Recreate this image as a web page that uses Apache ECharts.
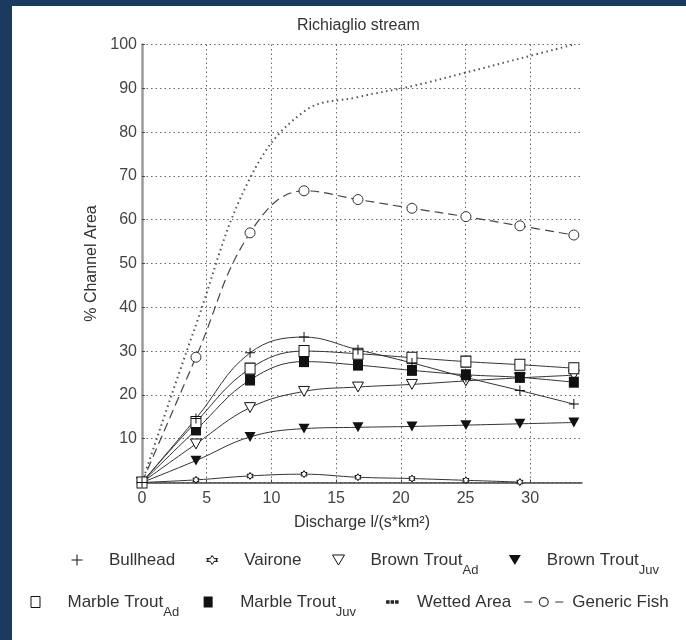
<!DOCTYPE html>
<html>
<head>
<meta charset="utf-8">
<script src="https://cdn.jsdelivr.net/npm/echarts@6/dist/echarts.min.js"></script>
<style>
html,body{margin:0;padding:0;background:#fff;}
#chart{width:686px;height:640px;}
</style>
</head>
<body>
<div id="chart"></div>
<script>
// discharge l/(s*km2)
var discharge = [0, 4.17, 8.35, 12.52, 16.69, 20.86, 25.03, 29.2, 33.37];

var bullhead      = [0, 14.6, 29.6, 33.2, 30.3, 27.3, 24.0, 21.0, 17.9];
var vairone       = [0, 0.6, 1.5, 1.9, 1.2, 0.9, 0.5, 0.1];
var brownTroutAd  = [0, 8.8, 17.1, 20.8, 21.8, 22.4, 23.2, 23.9, 24.5];
var brownTroutJuv = [0, 5.0, 10.4, 12.3, 12.6, 12.8, 13.1, 13.4, 13.7];
var marbleTroutAd = [0, 13.8, 26.0, 30.0, 29.4, 28.5, 27.6, 26.9, 26.1];
var marbleTroutJuv= [0, 12.0, 23.4, 27.6, 26.8, 25.6, 24.6, 24.0, 22.9];
var wettedArea    = [0, 36.0, 69.5, 84.7, 88.0, 90.5, 93.6, 96.8, 100];
var genericFish   = [0, 28.6, 57.0, 66.6, 64.6, 62.6, 60.7, 58.6, 56.5];

var xTicks = [0, 5, 10, 15, 20, 25, 30];
var yTicks = [10, 20, 30, 40, 50, 60, 70, 80, 90, 100];

var FONT = 'Liberation Sans';
var INK = '#333';

function pairs(ys){
	return ys.map(function(v,i){ return [discharge[i], v]; });
}

// marker shapes on the curves
var SYM = {
	plus: 'path://M0,4.5H10V5.5H0Z M4.5,0H5.5V10H4.5Z',
	hexa: 'path://M50,0L64.45,24.97L93.3,25L78.9,50L93.3,75L64.45,75.03L50,100L35.55,75.03L6.7,75L21.1,50L6.7,25L35.55,24.97Z',
	tri: 'path://M0,0H10L5,9Z'
};

// legend icons, drawn in a 54x12 box (corner points keep the scale 1:1)
var BOX = 'M0,0L0,0M54,12L54,12 ';
var ICON = {
	plus: 'path://' + BOX + 'M21.5,5.5H32.5V6.5H21.5Z M26.5,0.5H27.5V11.5H26.5Z',
	hexa: 'path://' + BOX + 'M27,1.5L28.9,4.6L32.6,4.6L30.7,6L32.6,7.4L28.9,7.4L27,10.5L25.1,7.4L21.4,7.4L23.3,6L21.4,4.6L25.1,4.6Z',
	tri: 'path://' + BOX + 'M21,1H33L27,11Z',
	square: 'path://' + BOX + 'M22.5,0.5H31.5V11.5H22.5Z',
	dots: 'path://' + BOX + 'M28,4.3H31.5V7.7H28Z M32.5,4.3H36V7.7H32.5Z M37,4.3H40.5V7.7H37Z',
	fish: 'path://' + BOX + 'M11,5.4H19V6.6H11Z M42,5.4H50V6.6H42Z M25.5,6A5,5 0 1,1 35.5,6A5,5 0 1,1 25.5,6Z M26.7,6A3.8,3.8 0 1,0 34.3,6A3.8,3.8 0 1,0 26.7,6Z'
};

function fishLine(name, data, symbol, size, fill){
	return {
		name: name,
		type: 'line',
		data: pairs(data),
		smooth: 0.4,
		symbol: symbol,
		symbolSize: size,
		symbolKeepAspect: true,
		showAllSymbol: true,
		lineStyle: {color: INK, width: 1},
		itemStyle: {color: fill, borderColor: '#111', borderWidth: fill === '#fff' ? 1 : 0},
		emphasis: {disabled: true}
	};
}

function legendName(name){
	var p = name.split('_');
	if (p.length > 1) return '{n|' + p[0] + '}{s|' + p[1] + '}';
	return '{n|' + name + '}';
}

var legendText = {
	color: INK,
	fontFamily: FONT,
	fontSize: 17,
	rich: {
		n: {fontFamily: FONT, fontSize: 17, color: INK},
		s: {fontFamily: FONT, fontSize: 13, color: INK, padding: [20, 0, 0, 0]}
	}
};

var openStyle = {color: '#fff', borderColor: '#111', borderWidth: 1};
var fullStyle = {color: '#111', borderColor: '#111', borderWidth: 0};

var gridColor = '#666';

var chart = echarts.init(document.getElementById('chart'));
chart.setOption({
	animation: false,
	backgroundColor: '#fff',
	title: {
		text: 'Richiaglio stream',
		left: 297,
		top: 18,
		padding: 0,
		textStyle: {fontFamily: FONT, fontSize: 16, fontWeight: 'normal', color: INK}
	},
	graphic: [
		{type: 'rect', shape: {x: 0, y: 0, width: 12, height: 640}, style: {fill: '#1b3a60'}, z: 100},
		{type: 'rect', shape: {x: 0, y: 0, width: 686, height: 6}, style: {fill: '#1b3a60'}, z: 100}
	],
	grid: {left: 142, right: 104, top: 44.5, bottom: 157.5},
	xAxis: {
		type: 'value',
		min: 0,
		max: 34,
		interval: 5,
		name: 'Discharge l/(s*km²)',
		nameLocation: 'middle',
		nameGap: 32,
		nameTextStyle: {fontFamily: FONT, fontSize: 16, color: INK},
		axisLine: {show: true, lineStyle: {color: '#444', width: 1.5}},
		axisTick: {show: true, inside: true, length: 3, lineStyle: {color: '#444'}},
		axisLabel: {
			showMaxLabel: false,
			margin: 8,
			fontFamily: FONT, fontSize: 16, color: '#444',
			formatter: function(v){ return xTicks.indexOf(v) >= 0 ? String(v) : ''; }
		},
		splitLine: {
			show: true,
			lineStyle: {
				type: [1.5, 3],
				width: 1,
				color: [gridColor, gridColor, gridColor, gridColor, gridColor, gridColor, gridColor, 'rgba(0,0,0,0)']
			}
		}
	},
	yAxis: {
		type: 'value',
		min: 0,
		max: 100,
		interval: 10,
		name: '% Channel Area',
		nameLocation: 'middle',
		nameGap: 42,
		nameTextStyle: {fontFamily: FONT, fontSize: 16, color: INK},
		axisLine: {show: true, lineStyle: {color: '#9a9a9a', width: 2.5}},
		axisTick: {show: true, inside: true, length: 3, lineStyle: {color: '#444'}},
		axisLabel: {
			showMinLabel: false,
			margin: 5,
			fontFamily: FONT, fontSize: 16, color: '#444',
			formatter: function(v){ return yTicks.indexOf(v) >= 0 ? String(v) : ''; }
		},
		splitLine: {show: true, lineStyle: {type: [1.5, 3], width: 1, color: gridColor}}
	},
	legend: [
		{
			left: 50, top: 551.5, padding: 0,
			itemWidth: 54, itemHeight: 12, itemGap: 9.5,
			selectedMode: false,
			formatter: legendName,
			textStyle: legendText,
			data: [
				{name: 'Bullhead', icon: ICON.plus, itemStyle: fullStyle},
				{name: 'Vairone', icon: ICON.hexa, itemStyle: openStyle},
				{name: 'Brown Trout_Ad', icon: ICON.tri, itemStyle: openStyle},
				{name: 'Brown Trout_Juv', icon: ICON.tri, itemStyle: fullStyle}
			]
		},
		{
			left: 8, top: 593.5, padding: 0,
			itemWidth: 54, itemHeight: 12, itemGap: 2,
			selectedMode: false,
			formatter: legendName,
			textStyle: legendText,
			data: [
				{name: 'Marble Trout_Ad', icon: ICON.square, itemStyle: openStyle},
				{name: 'Marble Trout_Juv', icon: ICON.square, itemStyle: fullStyle},
				{name: 'Wetted Area', icon: ICON.dots, itemStyle: {color: '#222', borderWidth: 0}},
				{name: 'Generic Fish', icon: ICON.fish, itemStyle: {color: '#333', borderWidth: 0}}
			]
		}
	],
	series: [
		{
			name: 'Wetted Area',
			type: 'line',
			data: pairs(wettedArea),
			smooth: 0.4,
			symbol: 'none',
			lineStyle: {color: '#555', width: 2, type: [1.5, 3.5]},
			itemStyle: {color: '#555'},
			emphasis: {disabled: true}
		},
		{
			name: 'Generic Fish',
			type: 'line',
			data: pairs(genericFish),
			smooth: 0.4,
			symbol: 'circle',
			symbolSize: 10,
			showAllSymbol: true,
			lineStyle: {color: '#444', width: 1.2, type: [9, 5]},
			itemStyle: {color: '#fff', borderColor: '#333', borderWidth: 1},
			emphasis: {disabled: true}
		},
		fishLine('Vairone', vairone, SYM.hexa, 7, '#fff'),
		fishLine('Brown Trout_Juv', brownTroutJuv, SYM.tri, 11, '#111'),
		fishLine('Brown Trout_Ad', brownTroutAd, SYM.tri, 11, '#fff'),
		fishLine('Marble Trout_Juv', marbleTroutJuv, 'rect', [10, 11], '#111'),
		fishLine('Marble Trout_Ad', marbleTroutAd, 'rect', [10, 11], '#fff'),
		fishLine('Bullhead', bullhead, SYM.plus, 10, '#111')
	]
});
</script>
</body>
</html>
